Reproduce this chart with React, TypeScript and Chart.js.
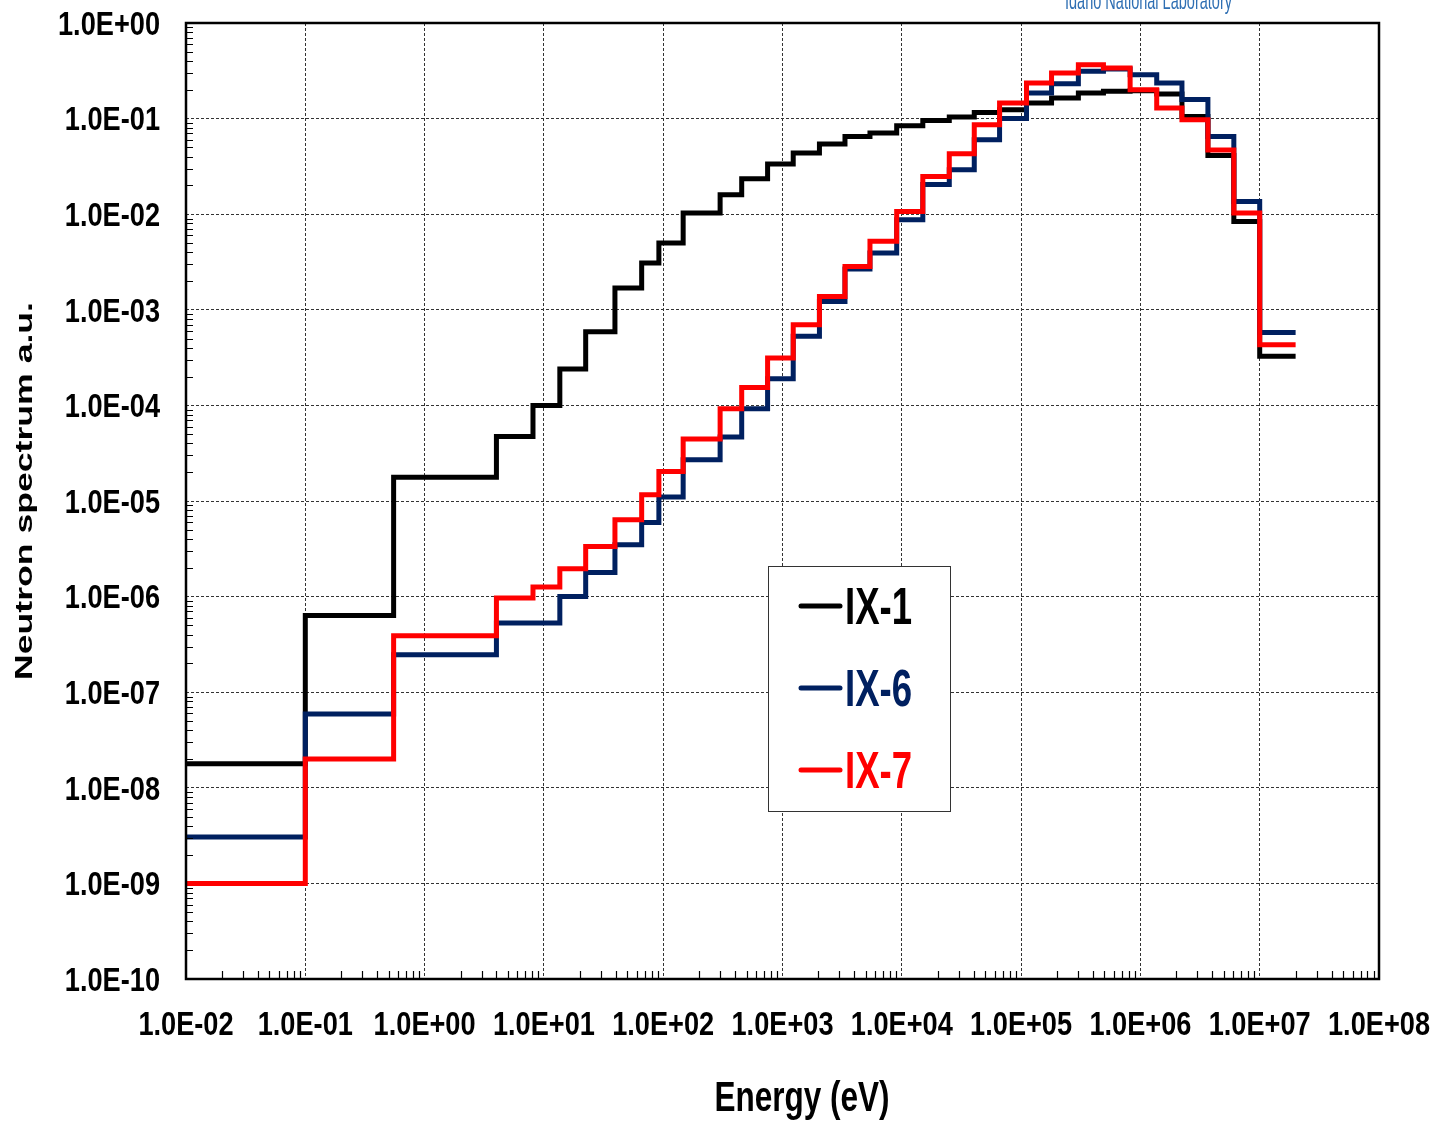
import React, { useEffect, useRef } from 'react';
import { Chart, registerables } from 'chart.js';

Chart.register(...registerables);

// Energy group boundaries (eV)
const energyEdges = [
  0.01, 0.1, 0.55, 4.0, 8.1, 13.6, 22.4, 39.4, 66, 92, 147, 300, 455, 750, 1230,
  2040, 3340, 5410, 9060, 15000, 25000, 40500, 66000, 111000, 180000, 302000,
  490000, 820000, 1.37e6, 2.23e6, 3.68e6, 6.07e6, 1.0e7, 2.0e7,
];

// Group values (a.u.) for each series, one per energy group
const ix1Values = [
  1.78e-8, 6.36e-7, 1.77e-5, 4.74e-5, 1.0e-4, 2.4e-4, 5.9e-4, 1.69e-3, 3.09e-3,
  5.0e-3, 1.03e-2, 1.6e-2, 2.35e-2, 3.35e-2, 4.37e-2, 5.42e-2, 6.5e-2, 7.07e-2,
  8.43e-2, 9.57e-2, 0.104, 0.116, 0.124, 0.146, 0.164, 0.185, 0.193, 0.195,
  0.181, 0.105, 4.12e-2, 8.4e-3, 3.26e-4,
];
const ix6Values = [
  3.05e-9, 5.9e-8, 2.47e-7, 5.3e-7, 5.3e-7, 1.0e-6, 1.79e-6, 3.49e-6, 5.97e-6,
  1.1e-5, 2.7e-5, 4.67e-5, 9.2e-5, 1.9e-4, 5.3e-4, 1.22e-3, 2.67e-3, 3.93e-3,
  8.75e-3, 2.04e-2, 2.92e-2, 6.0e-2, 0.1, 0.185, 0.232, 0.312, 0.33, 0.288,
  0.236, 0.158, 6.5e-2, 1.36e-2, 5.8e-4,
];
const ix7Values = [
  1.0e-9, 2.0e-8, 3.9e-7, 9.66e-7, 1.26e-6, 1.95e-6, 3.35e-6, 6.37e-6, 1.16e-5,
  2.04e-5, 4.45e-5, 9.2e-5, 1.54e-4, 3.13e-4, 6.98e-4, 1.38e-3, 2.84e-3, 5.2e-3,
  1.07e-2, 2.48e-2, 4.3e-2, 8.63e-2, 0.146, 0.236, 0.30, 0.366, 0.338, 0.2,
  0.129, 0.097, 4.7e-2, 1.03e-2, 4.3e-4,
];

const seriesLabels = ['IX-1', 'IX-6', 'IX-7'];
const seriesColors = ['#000000', '#002060', '#ff0000'];

const xTickLabels = [
  '1.0E-02', '1.0E-01', '1.0E+00', '1.0E+01', '1.0E+02', '1.0E+03',
  '1.0E+04', '1.0E+05', '1.0E+06', '1.0E+07', '1.0E+08',
];
const yTickLabels = [
  '1.0E-10', '1.0E-09', '1.0E-08', '1.0E-07', '1.0E-06', '1.0E-05',
  '1.0E-04', '1.0E-03', '1.0E-02', '1.0E-01', '1.0E+00',
];
const xTitle = 'Energy (eV)';
const yTitle = 'Neutron spectrum a.u.';
const logoText = 'Idaho National Laboratory';

const X_MIN_EXP = -2;
const X_MAX_EXP = 8;
const Y_MIN_EXP = -10;
const Y_MAX_EXP = 0;

const NARROW = '"Liberation Sans Narrow", "Arial Narrow", "Liberation Sans", Arial, sans-serif';
const WIDE = '"Liberation Sans", Arial, sans-serif';

function toSteps(values: number[]) {
  return energyEdges.map((e, i) => ({ x: e, y: values[Math.min(i, values.length - 1)] }));
}

function majorExp(v: number): number | null {
  const l = Math.log10(v);
  const r = Math.round(l);
  return Math.abs(l - r) < 1e-6 ? r : null;
}

function drawFitted(ctx: CanvasRenderingContext2D, text: string, x: number, y: number, targetW: number, align: 'left' | 'center') {
  const w = ctx.measureText(text).width;
  const sx = targetW / w;
  ctx.save();
  ctx.translate(x, y);
  ctx.scale(sx, 1);
  ctx.textAlign = align;
  ctx.fillText(text, 0, 0);
  ctx.restore();
}

const decorPlugin = {
  id: 'decor',
  afterDraw(chart: any) {
    const { ctx, chartArea, scales } = chart;
    const xs = scales.x;
    const ys = scales.y;
    const { left, right, top, bottom } = chartArea;
    ctx.save();

    // minor ticks on left and bottom axes
    ctx.strokeStyle = '#000';
    ctx.lineWidth = 1.2;
    ctx.beginPath();
    for (let e = Y_MIN_EXP; e < Y_MAX_EXP; e++) {
      for (let m = 2; m <= 9; m++) {
        const py = Math.round(ys.getPixelForValue(m * Math.pow(10, e))) + 0.5;
        ctx.moveTo(left, py);
        ctx.lineTo(left + 7, py);
      }
    }
    for (let e = X_MIN_EXP; e < X_MAX_EXP; e++) {
      for (let m = 2; m <= 9; m++) {
        const px = Math.round(xs.getPixelForValue(m * Math.pow(10, e))) + 0.5;
        ctx.moveTo(px, bottom);
        ctx.lineTo(px, bottom - 8);
      }
    }
    ctx.stroke();

    // frame
    ctx.lineWidth = 2.5;
    ctx.strokeStyle = '#000';
    ctx.strokeRect(left, top, right - left, bottom - top);

    // tick labels (narrow bold, from the scales' major ticks)
    ctx.fillStyle = '#000';
    ctx.textBaseline = 'alphabetic';
    ctx.font = `bold 33px ${WIDE}`;
    const tickScale = 102 / ctx.measureText('1.0E+00').width;
    ys.ticks.forEach((t: any) => {
      const e = majorExp(t.value);
      if (e === null) return;
      const label = yTickLabels[e - Y_MIN_EXP];
      const py = ys.getPixelForValue(t.value);
      ctx.save();
      ctx.translate(160, py + 11.8);
      ctx.scale(tickScale, 1);
      ctx.textAlign = 'right';
      ctx.fillText(label, 0, 0);
      ctx.restore();
    });
    xs.ticks.forEach((t: any) => {
      const e = majorExp(t.value);
      if (e === null) return;
      const label = xTickLabels[e - X_MIN_EXP];
      const px = xs.getPixelForValue(t.value);
      ctx.save();
      ctx.translate(px, 1035);
      ctx.scale(tickScale, 1);
      ctx.textAlign = 'center';
      ctx.fillText(label, 0, 0);
      ctx.restore();
    });

    // legend
    const lx = 768, ly = 566, lw = 182, lh = 245;
    ctx.fillStyle = '#ffffff';
    ctx.fillRect(lx, ly, lw, lh);
    ctx.lineWidth = 1;
    ctx.strokeStyle = '#333';
    ctx.strokeRect(lx + 0.5, ly + 0.5, lw, lh);
    ctx.font = `bold 51px ${NARROW}`;
    const refW = ctx.measureText('IX-1').width;
    const sx = 67 / refW;
    chart.data.datasets.forEach((ds: any, i: number) => {
      const cy = 606 + i * 82;
      ctx.strokeStyle = ds.borderColor;
      ctx.lineWidth = 5;
      ctx.lineCap = 'round';
      ctx.beginPath();
      ctx.moveTo(801, cy);
      ctx.lineTo(840, cy);
      ctx.stroke();
      ctx.fillStyle = ds.borderColor;
      ctx.save();
      ctx.translate(845, cy + 17.5);
      ctx.scale(sx, 1);
      ctx.textAlign = 'left';
      ctx.textBaseline = 'alphabetic';
      ctx.fillText(ds.label, 0, 0);
      ctx.restore();
    });

    // x title
    ctx.fillStyle = '#000';
    ctx.textBaseline = 'alphabetic';
    ctx.font = `bold 42px ${NARROW}`;
    drawFitted(ctx, xTitle, 802, 1111, 175, 'center');

    // y title (rotated)
    ctx.font = `bold 23px ${WIDE}`;
    const yw = ctx.measureText(yTitle).width;
    ctx.save();
    ctx.translate(32, 491);
    ctx.rotate(-Math.PI / 2);
    ctx.scale(378 / yw, 1);
    ctx.textAlign = 'center';
    ctx.fillText(yTitle, 0, 0);
    ctx.restore();

    // logo text at the top (cut off by page edge)
    ctx.fillStyle = '#2f6fb3';
    ctx.font = `24px ${NARROW}`;
    drawFitted(ctx, logoText, 1065, 9, 167, 'left');

    ctx.restore();
  },
};

export default function App() {
  const canvasRef = useRef<HTMLCanvasElement | null>(null);

  useEffect(() => {
    if (!canvasRef.current) return;
    const seriesValues = [ix1Values, ix6Values, ix7Values];
    const chart = new Chart(canvasRef.current, {
      type: 'line',
      data: {
        datasets: seriesValues.map((vals, i) => ({
          label: seriesLabels[i],
          data: toSteps(vals),
          borderColor: seriesColors[i],
          backgroundColor: seriesColors[i],
          borderWidth: 5,
          stepped: 'before' as const,
          pointRadius: 0,
          fill: false,
          order: 3 - i,
          borderJoinStyle: 'miter' as const,
        })),
      },
      options: {
        animation: false,
        responsive: true,
        maintainAspectRatio: false,
        devicePixelRatio: 1,
        layout: { padding: { left: 0, top: 23, right: 62, bottom: 0 } },
        plugins: {
          legend: { display: false },
          tooltip: { enabled: false },
          title: { display: false },
        },
        scales: {
          x: {
            type: 'logarithmic',
            min: Math.pow(10, X_MIN_EXP),
            max: Math.pow(10, X_MAX_EXP),
            afterFit: (s: any) => { s.height = 142; },
            border: { display: false, dash: [3, 2] },
            grid: {
              drawTicks: false,
              lineWidth: 1,
              color: (c: any) => (c.tick && majorExp(c.tick.value) !== null ? '#333333' : 'rgba(0,0,0,0)'),
            },
            ticks: {
              display: false,
              autoSkip: false,
              maxRotation: 0,
              minRotation: 0,
              callback: (v: any) => {
                const e = majorExp(Number(v));
                return e === null ? '' : xTickLabels[e - X_MIN_EXP];
              },
            },
          },
          y: {
            type: 'logarithmic',
            min: Math.pow(10, Y_MIN_EXP),
            max: Math.pow(10, Y_MAX_EXP),
            afterFit: (s: any) => { s.width = 186; },
            border: { display: false, dash: [3, 2] },
            grid: {
              drawTicks: false,
              lineWidth: 1,
              color: (c: any) => (c.tick && majorExp(c.tick.value) !== null ? '#333333' : 'rgba(0,0,0,0)'),
            },
            ticks: {
              display: false,
              autoSkip: false,
              callback: (v: any) => {
                const e = majorExp(Number(v));
                return e === null ? '' : yTickLabels[e - Y_MIN_EXP];
              },
            },
          },
        },
      },
      plugins: [decorPlugin],
    });
    return () => chart.destroy();
  }, []);

  return (
    <div style={{ position: 'fixed', left: 0, top: 0, width: 1441, height: 1121, background: '#fff' }}>
      <canvas ref={canvasRef} />
    </div>
  );
}
